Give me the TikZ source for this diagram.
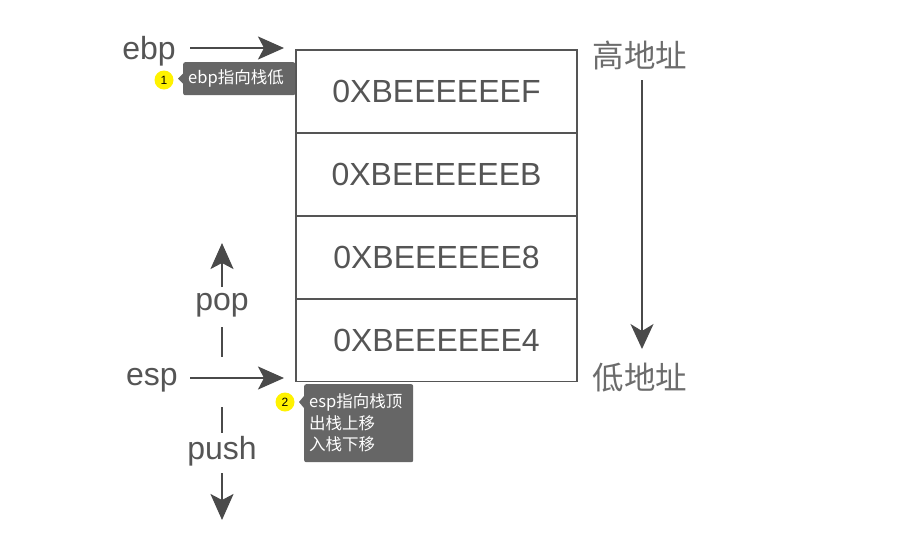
\documentclass[tikz,border=0pt]{standalone}
\usepackage{fontspec}
\setmainfont{Liberation Sans}
\newfontfamily\cjkf{Noto Sans CJK SC}
\usetikzlibrary{arrows.meta,shapes.geometric,calc}
\definecolor{linec}{HTML}{4A4A4A}
\definecolor{textc}{HTML}{555555}
\definecolor{tipbg}{HTML}{666666}
\definecolor{badge}{HTML}{FFF200}
\tikzset{
  bigarrow/.style={draw=linec, line width=2pt, -{Stealth[length=26pt,width=23pt,inset=6pt]}},
  thinarrow/.style={draw=linec, line width=1.6pt, -{Stealth[length=25pt,width=23pt,inset=7pt]}},
  dashline/.style={draw=linec, line width=2pt},
  cell/.style={draw=textc, line width=1.8pt, minimum width=281pt, minimum height=83pt, inner sep=0pt, text=textc, font=\fontsize{32}{36}\selectfont},
  reglabel/.style={text=textc, font=\fontsize{32}{36}\selectfont, inner sep=0pt},
  addrlabel/.style={text=gray!85!black, font=\cjkf\fontsize{31.5}{36}\selectfont, inner sep=0pt},
  tipbox/.style={fill=tipbg, rounded corners=2pt, text=white, font=\cjkf\fontsize{16.5}{21.5}\selectfont, align=left, anchor=north west, inner xsep=5pt, inner ysep=5pt},
  badgec/.style={circle, fill=badge, minimum size=19pt, inner sep=0pt, font=\fontsize{12}{13}\selectfont}
}
\begin{document}
\begin{tikzpicture}[x=1pt,y=-1pt]
\useasboundingbox[fill=white] (0,0) rectangle (923,547);
% stack cells
\node[cell] (c1) at (436.5,91.5) {0XBEEEEEEF};
\node[cell] (c2) at (436.5,174.5) {0XBEEEEEEB};
\node[cell] (c3) at (436.5,257.5) {0XBEEEEEE8};
\node[cell] (c4) at (436.5,340) {0XBEEEEEE4};
% registers
\node[reglabel] (ebp) at (149,51) {ebp};
\coordinate (ebpa) at (190,48);
\coordinate (ebpb) at (284,48);
\draw[bigarrow] (ebpa) -- (ebpb);
\node[reglabel] (esp) at (152,380) {esp};
\coordinate (espa) at (190,378);
\coordinate (espb) at (284,378);
\draw[bigarrow] (espa) -- (espb);
% pop / push
\node[reglabel] (pop) at (222,305) {pop};
\coordinate (popa) at (222,287);
\coordinate (popb) at (222,243);
\draw[bigarrow] (popa) -- (popb);
\coordinate (popc) at (222,327);
\coordinate (popd) at (222,357);
\draw[dashline] (popc) -- (popd);
\node[reglabel] (push) at (222,451) {push};
\coordinate (pusha) at (222,407);
\coordinate (pushb) at (222,433);
\draw[dashline] (pusha) -- (pushb);
\coordinate (pushc) at (222,473);
\coordinate (pushd) at (222,520);
\draw[bigarrow] (pushc) -- (pushd);
% addresses
\node[addrlabel] (hi) at (640,55) {高地址};
\node[addrlabel] (lo) at (640,378) {低地址};
\coordinate (addra) at (642,80);
\coordinate (addrb) at (642,349);
\draw[thinarrow] (addra) -- (addrb);
% tooltips
\node[badgec] (b1) at (164,80) {1};
\node[tipbox, text width=102pt, minimum height=33pt] (t1) at (183,62) {ebp指向栈低};
\fill[tipbg] (t1.west) ++(0,-5) -- ++(-5,5) -- ++(5,5) -- cycle;
\node[badgec] (b2) at (285,402) {2};
\node[tipbox, text width=99pt, minimum height=78pt] (t2) at (304,384) {esp指向栈顶\\出栈上移\\入栈下移};
\fill[tipbg] ($(t2.north west)+(0,12)$) -- ++(-5,6) -- ++(5,6) -- cycle;
\end{tikzpicture}
\end{document}
